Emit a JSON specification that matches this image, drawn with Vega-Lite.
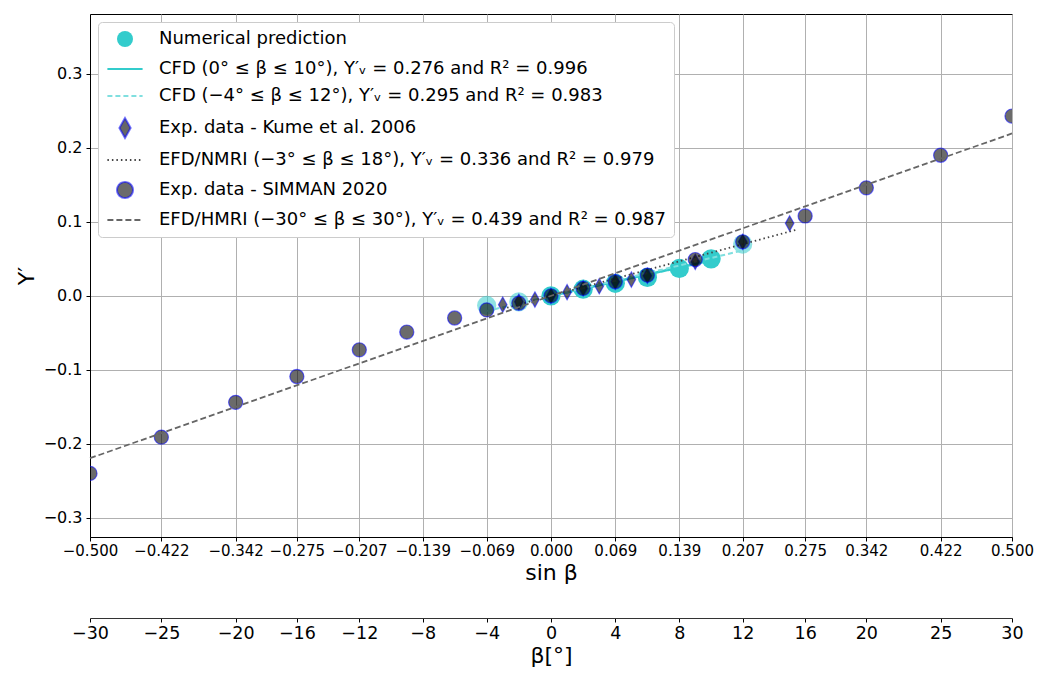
{
  "$schema": "https://vega.github.io/schema/vega-lite/v6.json",
  "autosize": "none",
  "width": 922,
  "height": 523,
  "padding": {"left": 90, "top": 14, "right": 39, "bottom": 136},
  "background": "white",
  "config": {
    "font": "DejaVu Sans",
    "view": {"stroke": "black", "strokeWidth": 1},
    "axis": {
      "labelFont": "DejaVu Sans", "titleFont": "DejaVu Sans",
      "labelColor": "black", "titleColor": "black", "titleFontWeight": "normal",
      "domainColor": "black", "tickColor": "black",
      "gridColor": "#b0b0b0", "gridWidth": 1, "gridOpacity": 1
    },
    "legend": {
      "orient": "top-left", "offset": 8, "padding": 8,
      "fillColor": "white", "strokeColor": "#cccccc", "cornerRadius": 4,
      "labelFont": "DejaVu Sans", "labelFontSize": 18, "labelColor": "black", "labelLimit": 0,
      "symbolSize": 256, "symbolStrokeWidth": 2, "symbolOffset": 10, "labelOffset": 25, "rowPadding": 9,
      "symbolOpacity": 1
    }
  },
  "datasets": {
    "pts": [
      {"series": "Numerical prediction", "beta": -4, "sinb": -0.06976, "y": -0.013, "fit": "no"},
      {"series": "Numerical prediction", "beta": -2, "sinb": -0.03490, "y": -0.008, "fit": "no"},
      {"series": "Numerical prediction", "beta": 0, "sinb": 0.0, "y": 0.000, "fit": "yes"},
      {"series": "Numerical prediction", "beta": 2, "sinb": 0.03490, "y": 0.009, "fit": "yes"},
      {"series": "Numerical prediction", "beta": 4, "sinb": 0.06976, "y": 0.017, "fit": "yes"},
      {"series": "Numerical prediction", "beta": 6, "sinb": 0.10453, "y": 0.025, "fit": "yes"},
      {"series": "Numerical prediction", "beta": 8, "sinb": 0.13917, "y": 0.037, "fit": "yes"},
      {"series": "Numerical prediction", "beta": 10, "sinb": 0.17365, "y": 0.050, "fit": "yes"},
      {"series": "Numerical prediction", "beta": 12, "sinb": 0.20791, "y": 0.070, "fit": "no"},
      {"series": "Exp. data - Kume et al. 2006", "beta": -3, "sinb": -0.05234, "y": -0.012},
      {"series": "Exp. data - Kume et al. 2006", "beta": -2, "sinb": -0.03490, "y": -0.008},
      {"series": "Exp. data - Kume et al. 2006", "beta": -1, "sinb": -0.01745, "y": -0.005},
      {"series": "Exp. data - Kume et al. 2006", "beta": 0, "sinb": 0.0, "y": 0.000},
      {"series": "Exp. data - Kume et al. 2006", "beta": 1, "sinb": 0.01745, "y": 0.005},
      {"series": "Exp. data - Kume et al. 2006", "beta": 2, "sinb": 0.03490, "y": 0.010},
      {"series": "Exp. data - Kume et al. 2006", "beta": 3, "sinb": 0.05234, "y": 0.013},
      {"series": "Exp. data - Kume et al. 2006", "beta": 4, "sinb": 0.06976, "y": 0.019},
      {"series": "Exp. data - Kume et al. 2006", "beta": 5, "sinb": 0.08716, "y": 0.022},
      {"series": "Exp. data - Kume et al. 2006", "beta": 6, "sinb": 0.10453, "y": 0.027},
      {"series": "Exp. data - Kume et al. 2006", "beta": 9, "sinb": 0.15643, "y": 0.046},
      {"series": "Exp. data - Kume et al. 2006", "beta": 12, "sinb": 0.20791, "y": 0.073},
      {"series": "Exp. data - Kume et al. 2006", "beta": 15, "sinb": 0.25882, "y": 0.098},
      {"series": "Exp. data - SIMMAN 2020", "beta": -30, "sinb": -0.5, "y": -0.240},
      {"series": "Exp. data - SIMMAN 2020", "beta": -25, "sinb": -0.42262, "y": -0.191},
      {"series": "Exp. data - SIMMAN 2020", "beta": -20, "sinb": -0.34202, "y": -0.144},
      {"series": "Exp. data - SIMMAN 2020", "beta": -16, "sinb": -0.27564, "y": -0.109},
      {"series": "Exp. data - SIMMAN 2020", "beta": -12, "sinb": -0.20791, "y": -0.073},
      {"series": "Exp. data - SIMMAN 2020", "beta": -9, "sinb": -0.15643, "y": -0.049},
      {"series": "Exp. data - SIMMAN 2020", "beta": -6, "sinb": -0.10453, "y": -0.030},
      {"series": "Exp. data - SIMMAN 2020", "beta": -4, "sinb": -0.06976, "y": -0.019},
      {"series": "Exp. data - SIMMAN 2020", "beta": -2, "sinb": -0.03490, "y": -0.010},
      {"series": "Exp. data - SIMMAN 2020", "beta": 0, "sinb": 0.0, "y": 0.000},
      {"series": "Exp. data - SIMMAN 2020", "beta": 2, "sinb": 0.03490, "y": 0.010},
      {"series": "Exp. data - SIMMAN 2020", "beta": 4, "sinb": 0.06976, "y": 0.019},
      {"series": "Exp. data - SIMMAN 2020", "beta": 6, "sinb": 0.10453, "y": 0.028},
      {"series": "Exp. data - SIMMAN 2020", "beta": 9, "sinb": 0.15643, "y": 0.049},
      {"series": "Exp. data - SIMMAN 2020", "beta": 12, "sinb": 0.20791, "y": 0.073},
      {"series": "Exp. data - SIMMAN 2020", "beta": 16, "sinb": 0.27564, "y": 0.108},
      {"series": "Exp. data - SIMMAN 2020", "beta": 20, "sinb": 0.34202, "y": 0.146},
      {"series": "Exp. data - SIMMAN 2020", "beta": 25, "sinb": 0.42262, "y": 0.190},
      {"series": "Exp. data - SIMMAN 2020", "beta": 30, "sinb": 0.5, "y": 0.243}
    ],
    "lines": [
      {"series": "CFD (0° ≤ β ≤ 10°), Y′ᵥ = 0.276 and R² = 0.996", "sinb": 0.0, "y": 0.0},
      {"series": "CFD (0° ≤ β ≤ 10°), Y′ᵥ = 0.276 and R² = 0.996", "sinb": 0.17365, "y": 0.0479},
      {"series": "CFD (−4° ≤ β ≤ 12°), Y′ᵥ = 0.295 and R² = 0.983", "sinb": -0.06976, "y": -0.0206},
      {"series": "CFD (−4° ≤ β ≤ 12°), Y′ᵥ = 0.295 and R² = 0.983", "sinb": 0.20791, "y": 0.0613},
      {"series": "EFD/NMRI (−3° ≤ β ≤ 18°), Y′ᵥ = 0.336 and R² = 0.979", "sinb": -0.05234, "y": -0.0176},
      {"series": "EFD/NMRI (−3° ≤ β ≤ 18°), Y′ᵥ = 0.336 and R² = 0.979", "sinb": 0.2665, "y": 0.0895},
      {"series": "EFD/HMRI (−30° ≤ β ≤ 30°), Y′ᵥ = 0.439 and R² = 0.987", "sinb": -0.5, "y": -0.2195},
      {"series": "EFD/HMRI (−30° ≤ β ≤ 30°), Y′ᵥ = 0.439 and R² = 0.987", "sinb": 0.5, "y": 0.2195}
    ]
  },
  "layer": [
    {
      "encoding": {
        "x": {
          "field": "sinb", "type": "quantitative",
          "scale": {"domain": [-0.5, 0.5], "nice": false, "zero": false},
          "axis": {
            "title": "sin β", "titleFontSize": 22, "titlePadding": 4,
            "values": [-0.5, -0.42262, -0.34202, -0.27564, -0.20791, -0.13917, -0.06976, 0, 0.06976, 0.13917, 0.20791, 0.27564, 0.34202, 0.42262, 0.5],
            "labelExpr": "(datum.value < -1e-9 ? '−' : '') + format(floor(abs(datum.value) * 1000 + 1e-6) / 1000, '.3f')",
            "labelFontSize": 15, "tickSize": 4, "labelPadding": 2, "grid": true, "labelOverlap": false, "labelFlush": false
          }
        },
        "y": {
          "field": "y", "type": "quantitative",
          "scale": {"domain": [-0.326, 0.381], "nice": false, "zero": false},
          "axis": {
            "title": "Y′", "titleFontSize": 22, "titlePadding": 5,
            "values": [-0.3, -0.2, -0.1, 0, 0.1, 0.2, 0.3], "format": ".1f",
            "labelFontSize": 16, "tickSize": 4, "labelPadding": 4, "grid": true
          }
        }
      },
      "layer": [
        {
          "data": {"name": "pts"},
          "transform": [{"filter": "datum.series === 'Numerical prediction'"}],
          "mark": {"type": "point", "filled": true, "size": 370, "strokeWidth": 0},
          "encoding": {
            "fill": {"field": "series", "type": "nominal", "title": null,
              "scale": {
                "domain": ["Numerical prediction", "CFD (0° ≤ β ≤ 10°), Y′ᵥ = 0.276 and R² = 0.996", "CFD (−4° ≤ β ≤ 12°), Y′ᵥ = 0.295 and R² = 0.983", "Exp. data - Kume et al. 2006", "EFD/NMRI (−3° ≤ β ≤ 18°), Y′ᵥ = 0.336 and R² = 0.979", "Exp. data - SIMMAN 2020", "EFD/HMRI (−30° ≤ β ≤ 30°), Y′ᵥ = 0.439 and R² = 0.987"],
                "range": ["#33cccc", "transparent", "transparent", "rgba(0,0,0,0.6)", "transparent", "rgba(0,0,0,0.58)", "transparent"]
              }
            },
            "shape": {"field": "series", "type": "nominal", "title": null,
              "scale": {
                "domain": ["Numerical prediction", "CFD (0° ≤ β ≤ 10°), Y′ᵥ = 0.276 and R² = 0.996", "CFD (−4° ≤ β ≤ 12°), Y′ᵥ = 0.295 and R² = 0.983", "Exp. data - Kume et al. 2006", "EFD/NMRI (−3° ≤ β ≤ 18°), Y′ᵥ = 0.336 and R² = 0.979", "Exp. data - SIMMAN 2020", "EFD/HMRI (−30° ≤ β ≤ 30°), Y′ᵥ = 0.439 and R² = 0.987"],
                "range": ["circle", "M-2.2,0L2.2,0", "M-2.2,0L2.2,0", "M0,-1.25L0.7,0L0,1.25L-0.7,0Z", "M-2.2,0L2.2,0", "circle", "M-2.2,0L2.2,0"]
              }
            },
            "opacity": {"field": "fit", "type": "nominal", "scale": {"domain": ["yes", "no"], "range": [1, 0.55]}, "legend": null}
          }
        },
        {
          "data": {"name": "lines"},
          "transform": [{"filter": "datum.series === 'CFD (0° ≤ β ≤ 10°), Y′ᵥ = 0.276 and R² = 0.996'"}],
          "mark": {"type": "line", "strokeWidth": 2.5},
          "encoding": {
            "stroke": {"field": "series", "type": "nominal", "title": null,
              "scale": {
                "domain": ["Numerical prediction", "CFD (0° ≤ β ≤ 10°), Y′ᵥ = 0.276 and R² = 0.996", "CFD (−4° ≤ β ≤ 12°), Y′ᵥ = 0.295 and R² = 0.983", "Exp. data - Kume et al. 2006", "EFD/NMRI (−3° ≤ β ≤ 18°), Y′ᵥ = 0.336 and R² = 0.979", "Exp. data - SIMMAN 2020", "EFD/HMRI (−30° ≤ β ≤ 30°), Y′ᵥ = 0.439 and R² = 0.987"],
                "range": ["transparent", "#33cccc", "#80dfdf", "rgba(0,0,255,0.55)", "#444444", "rgba(0,0,255,0.55)", "#666666"]
              }
            },
            "strokeDash": {"field": "series", "type": "nominal", "title": null,
              "scale": {
                "domain": ["Numerical prediction", "CFD (0° ≤ β ≤ 10°), Y′ᵥ = 0.276 and R² = 0.996", "CFD (−4° ≤ β ≤ 12°), Y′ᵥ = 0.295 and R² = 0.983", "Exp. data - Kume et al. 2006", "EFD/NMRI (−3° ≤ β ≤ 18°), Y′ᵥ = 0.336 and R² = 0.979", "Exp. data - SIMMAN 2020", "EFD/HMRI (−30° ≤ β ≤ 30°), Y′ᵥ = 0.439 and R² = 0.987"],
                "range": [[1, 0], [1, 0], [5, 3], [1, 0], [1.5, 3], [1, 0], [6, 3]]
              }
            }
          }
        },
        {
          "data": {"name": "lines"},
          "transform": [{"filter": "datum.series === 'CFD (−4° ≤ β ≤ 12°), Y′ᵥ = 0.295 and R² = 0.983'"}],
          "mark": {"type": "line", "strokeWidth": 2},
          "encoding": {
            "stroke": {"field": "series", "type": "nominal"},
            "strokeDash": {"field": "series", "type": "nominal"}
          }
        },
        {
          "data": {"name": "pts"},
          "transform": [{"filter": "datum.series === 'Exp. data - Kume et al. 2006'"}],
          "mark": {"type": "point", "filled": true, "size": 150, "strokeWidth": 1.2, "opacity": 1},
          "encoding": {
            "fill": {"field": "series", "type": "nominal"},
            "stroke": {"field": "series", "type": "nominal"},
            "shape": {"field": "series", "type": "nominal"}
          }
        },
        {
          "data": {"name": "lines"},
          "transform": [{"filter": "datum.series === 'EFD/NMRI (−3° ≤ β ≤ 18°), Y′ᵥ = 0.336 and R² = 0.979'"}],
          "mark": {"type": "line", "strokeWidth": 1.8},
          "encoding": {
            "stroke": {"field": "series", "type": "nominal"},
            "strokeDash": {"field": "series", "type": "nominal"}
          }
        },
        {
          "data": {"name": "pts"},
          "transform": [{"filter": "datum.series === 'Exp. data - SIMMAN 2020'"}],
          "mark": {"type": "point", "filled": true, "size": 200, "strokeWidth": 1.2, "clip": true, "opacity": 1},
          "encoding": {
            "fill": {"field": "series", "type": "nominal"},
            "stroke": {"field": "series", "type": "nominal"},
            "shape": {"field": "series", "type": "nominal"}
          }
        }
      ]
    },
    {
      "data": {"name": "lines"},
      "transform": [{"filter": "datum.series === 'EFD/HMRI (−30° ≤ β ≤ 30°), Y′ᵥ = 0.439 and R² = 0.987'"}],
      "mark": {"type": "line", "strokeWidth": 1.8},
      "encoding": {
        "x": {
          "field": "sinb", "type": "quantitative",
          "scale": {"domain": [-0.5, 0.5], "nice": false, "zero": false},
          "axis": {
            "orient": "bottom", "offset": 81, "grid": false,
            "title": "β[°]", "titleFontSize": 22, "titlePadding": 4,
            "values": [-0.5, -0.42262, -0.34202, -0.27564, -0.20791, -0.13917, -0.06976, 0, 0.06976, 0.13917, 0.20791, 0.27564, 0.34202, 0.42262, 0.5],
            "labelExpr": "format(round(asin(datum.value) * 180 / PI), 'd')",
            "labelFontSize": 17.5, "tickSize": 4, "labelPadding": 2, "labelOverlap": false, "labelFlush": false,
            "domainColor": "#333333"
          }
        },
        "y": {
          "field": "y", "type": "quantitative",
          "scale": {"domain": [-0.326, 0.381], "nice": false, "zero": false},
          "axis": {
            "title": "Y′", "titleFontSize": 22, "titlePadding": 5,
            "values": [-0.3, -0.2, -0.1, 0, 0.1, 0.2, 0.3], "format": ".1f",
            "labelFontSize": 16, "tickSize": 4, "labelPadding": 4, "grid": true
          }
        },
        "stroke": {"field": "series", "type": "nominal"},
        "strokeDash": {"field": "series", "type": "nominal"}
      }
    }
  ],
  "resolve": {"scale": {"x": "independent"}, "axis": {"x": "independent"}}
}
